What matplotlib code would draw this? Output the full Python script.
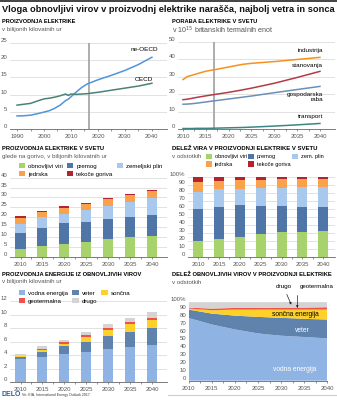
import matplotlib
matplotlib.use("Agg")
import matplotlib.pyplot as plt
from matplotlib import font_manager
from matplotlib.patches import Patch
import numpy as np

# ---------------------------- data -------------------------------------------
# production of electricity, OECD vs. non-OECD (trillion kWh)
gen_years = [1990, 1992, 1995, 1998, 2000, 2002, 2004, 2006, 2008, 2009, 2010,
             2012, 2014, 2016, 2017, 2020, 2025, 2030, 2035, 2040]
ne_oecd = [3.9, 3.9, 4.1, 4.6, 5.0, 5.4, 6.1, 7.0, 8.3, 8.7, 9.4,
           10.8, 12.1, 13.1, 13.4, 14.3, 15.6, 17.0, 18.7, 20.8]
oecd = [7.0, 7.2, 7.5, 8.3, 8.8, 9.0, 9.3, 9.7, 10.2, 9.8, 10.2,
        10.1, 10.2, 10.3, 10.4, 10.7, 11.3, 11.9, 12.5, 13.3]

# consumption of electricity by sector (quadrillion Btu)
use_years = [2010, 2011, 2012, 2013, 2015, 2017, 2020, 2023, 2025, 2030, 2035, 2040]
industrija = [28.5, 30.3, 31.0, 31.8, 33.3, 34.2, 35.7, 37.2, 37.8, 38.8, 40.0, 41.2]
stanovanja = [17.0, 17.3, 17.8, 18.3, 19.2, 20.0, 21.2, 22.6, 23.6, 26.4, 29.7, 33.2]
gospodarska = [14.4, 14.5, 14.7, 15.0, 15.7, 16.4, 17.4, 18.4, 19.1, 21.0, 22.8, 24.6]
transport = [0.5, 0.5, 0.5, 0.6, 0.6, 0.7, 0.9, 1.1, 1.3, 1.9, 2.6, 3.4]
today = 2016.7

# generation by fuel (trillion kWh)
bar_years = [2010, 2015, 2020, 2025, 2030, 2035, 2040]
obnovljivi = [3.9, 5.4, 6.4, 7.6, 8.8, 9.8, 10.6]
premog = [7.9, 9.3, 10.5, 10.1, 10.1, 10.1, 10.5]
plin = [4.6, 5.2, 4.7, 5.9, 6.7, 7.6, 8.7]
jedrska = [3.0, 2.5, 3.2, 3.0, 3.4, 3.7, 3.6]
tekoce = [1.0, 0.9, 0.7, 0.6, 0.5, 0.5, 0.6]

# share of fuels in generation (%)
obnovljivi_pct = [19.5, 22.0, 25.0, 28.0, 31.0, 31.0, 32.5]
premog_pct = [39.5, 40.0, 39.6, 35.8, 32.5, 31.0, 29.0]
plin_pct = [21.5, 22.0, 20.0, 21.7, 22.5, 24.5, 26.0]
jedrska_pct = [12.5, 11.0, 11.2, 10.3, 10.5, 10.0, 9.5]
tekoce_pct = [7.0, 5.0, 4.2, 4.2, 3.5, 3.5, 3.0]

# renewable generation by source (trillion kWh)
vodna = [3.4, 3.76, 4.15, 4.5, 4.96, 5.2, 5.5]
veter = [0.35, 0.74, 1.15, 1.5, 1.84, 2.2, 2.5]
soncna = [0.05, 0.3, 0.4, 0.75, 0.9, 1.2, 1.3]
geo = [0.1, 0.16, 0.2, 0.25, 0.3, 0.3, 0.3]
drugo = [0.2, 0.34, 0.4, 0.5, 0.7, 0.6, 0.8]

# share of renewable sources (%)
vodna_pct = [80.0, 71.7, 65.4, 60.3, 57.4, 55.7, 54.0]
veter_pct = [10.7, 13.9, 17.6, 21.1, 22.8, 23.2, 24.0]
soncna_pct = [1.3, 4.3, 7.7, 9.3, 10.5, 11.8, 12.7]
geo_pct = [1.2, 2.1, 2.1, 2.1, 2.5, 2.5, 3.0]
drugo_pct = [6.8, 8.0, 7.2, 7.2, 6.8, 6.8, 6.3]

# ---------------------------- style ------------------------------------------
names = {f.name for f in font_manager.fontManager.ttflist}
FONT = "Liberation Sans Narrow" if "Liberation Sans Narrow" in names else "Liberation Sans"
plt.rcParams["font.family"] = [FONT, "DejaVu Sans"]

C_GREEN = "#a8d26b"
C_COAL = "#4f76a6"
C_GAS = "#a9c8ee"
C_NUC = "#f9a24b"
C_OIL = "#b3242f"
C_HYDRO = "#8fb3e2"
C_WIND = "#5f83ad"
C_SUN = "#fdd02a"
C_GEO = "#f0524b"
C_OTHER = "#d4d4d4"
GRID = "#d6d6d6"
TXT = "#555555"

W, H = 337, 400
fig = plt.figure(figsize=(W / 100, H / 100), dpi=100)
renderer = fig.canvas.get_renderer()


def add_ax(l, t, r, b):
    return fig.add_axes([l / W, 1 - b / H, (r - l) / W, (b - t) / H])


def text(x, y, s, width=None, size=5, **kw):
    t = fig.text(x / W, 1 - y / H, s, fontsize=size, va="center", **kw)
    if width:
        w = t.get_window_extent(renderer).width
        t.set_fontsize(size * width / w)
    return t


def style(ax, xlim, ylim, yticks, ylabels, xticks, minor=None, pad=1.8):
    ax.set_xlim(*xlim)
    ax.set_ylim(*ylim)
    for s in ["top", "right", "left"]:
        ax.spines[s].set_visible(False)
    ax.spines["bottom"].set_color("#666666")
    ax.spines["bottom"].set_linewidth(0.6)
    ax.set_yticks(yticks, ylabels, va="bottom")
    ax.set_xticks(xticks)
    if minor is not None:
        ax.set_xticks(minor, minor=True)
    ax.tick_params(axis="y", length=0, pad=pad, labelsize=4.3, labelcolor=TXT)
    ax.tick_params(axis="x", which="both", length=1.5, width=0.5, color="#666666",
                   labelsize=4.3, labelcolor=TXT, pad=2)
    ax.grid(axis="y", color=GRID, lw=0.5)
    ax.set_axisbelow(True)


def legend(x, y, items, spacing=0.7, size=4.4):
    handles = [Patch(facecolor=c, edgecolor="none") for _, c in items]
    fig.legend(handles, [n for n, _ in items], loc="upper left",
               bbox_to_anchor=(x / W, 1 - y / H), ncol=3, frameon=False,
               fontsize=size, handlelength=1.0, handleheight=1.0,
               handletextpad=0.5, columnspacing=spacing, borderpad=0,
               borderaxespad=0, labelspacing=0.35)


# ---------------------------- header -----------------------------------------
fig.add_artist(plt.Line2D([0, 1], [1 - 0.8 / H] * 2, color="#222222", lw=1.2))
text(2, 9, "Vloga obnovljivi virov v proizvodnj elektrike narašča, najbolj vetra in sonca",
     width=331, size=8, weight="bold", color="#111111")

# ---------------------------- panel 1 ----------------------------------------
text(2, 21.5, "PROIZVODNJA ELEKTRIKE", width=76, size=5, weight="bold")
text(2, 30, "v bilijonih kilovatnih ur", width=61, size=5, color=TXT)
ax1 = add_ax(10, 42.7, 167, 129.4)
style(ax1, (1987.4, 2045.6), (0, 25), range(0, 26, 5), [str(v) for v in range(0, 26, 5)],
      range(1990, 2041, 10), minor=range(1995, 2040, 10))
ax1.axvline(today, color="#a0a0a0", lw=1.2)
ax1.plot(gen_years, ne_oecd, color="#4f95dc", lw=1.1)
ax1.plot(gen_years, oecd, color="#4b8275", lw=1.1)
ax1.text(2037, 22.9, "ne-OECD", fontsize=4.6, ha="center", va="center")
ax1.text(2037, 14.5, "OECD", fontsize=4.6, ha="center", va="center")

# ---------------------------- panel 2 ----------------------------------------
text(172, 21.5, "PORABA ELEKTRIKE V SVETU", width=86, size=5, weight="bold")
text(172, 30, "v 10$^{15}$ britanskih termalnih enot", width=102, size=5, color=TXT)
ax2 = add_ax(178, 42, 335, 129.4)
style(ax2, (2008.9, 2043.3), (0, 50), range(0, 51, 10), [str(v) for v in range(0, 51, 10)],
      range(2010, 2041, 5), minor=np.arange(2012.5, 2040, 5))
ax2.axvline(today, color="#a0a0a0", lw=1.2)
ax2.plot(use_years, industrija, color="#f7901e", lw=1.1)
ax2.plot(use_years, stanovanja, color="#b23b47", lw=1.1)
ax2.plot(use_years, gospodarska, color="#6a8fb8", lw=1.1)
ax2.plot(use_years, transport, color="#3d8583", lw=1.1)
for label, v in [("industrija", 45.4), ("stanovanja", 36.8), ("gospodarska\nraba", 18.4),
                 ("transport", 7.3)]:
    ax2.text(2040.7, v, label, fontsize=4.6, ha="right", va="center", linespacing=0.95)

# ---------------------------- panel 3 ----------------------------------------
text(2, 148.3, "PROIZVODNJA ELEKTRIKE V SVETU", width=104, size=5, weight="bold")
text(2, 156.7, "glede na gorivo, v bilijonih kilovatnih ur", width=108, size=5, color=TXT)
legend(19, 163, [("obnovljivi viri", C_GREEN), ("jedrska", C_NUC), ("premog", C_COAL),
                 ("tekoče goriva", C_OIL), ("zemeljski plin", C_GAS)])
ax3 = add_ax(10, 177.7, 167, 256.7)
style(ax3, (2007.6, 2043.4), (0, 40), range(0, 41, 5), [str(v) for v in range(0, 41, 5)],
      bar_years, minor=np.arange(2012.5, 2040, 5))
bottom = np.zeros(len(bar_years))
for vals, c in [(obnovljivi, C_GREEN), (premog, C_COAL), (plin, C_GAS),
                (jedrska, C_NUC), (tekoce, C_OIL)]:
    ax3.bar(bar_years, vals, width=2.3, bottom=bottom, color=c)
    bottom += np.array(vals)

# ---------------------------- panel 4 ----------------------------------------
text(172, 148.3, "DELEŽ VIRA V PROIZVODNJI ELEKTRIKE V SVETU", width=150, size=5, weight="bold")
text(172, 156.7, "v odstotkih", width=30, size=5, color=TXT)
legend(206, 154, [("obnovljivi viri", C_GREEN), ("jedrska", C_NUC), ("premog", C_COAL),
                  ("tekoče goriva", C_OIL), ("zem. plin", C_GAS)], spacing=0.3, size=4.1)
ax4 = add_ax(188, 176.7, 335, 256.7)
style(ax4, (2007.6, 2042.8), (0, 100), range(0, 101, 10),
      [str(v) for v in range(0, 100, 10)] + ["100%"],
      bar_years, minor=np.arange(2012.5, 2040, 5))
bottom = np.zeros(len(bar_years))
for vals, c in [(obnovljivi_pct, C_GREEN), (premog_pct, C_COAL), (plin_pct, C_GAS),
                (jedrska_pct, C_NUC), (tekoce_pct, C_OIL)]:
    ax4.bar(bar_years, vals, width=2.4, bottom=bottom, color=c)
    bottom += np.array(vals)

# ---------------------------- panel 5 ----------------------------------------
text(2, 274, "PROIZVODNJA ENERGIJE IZ OBNOVLJIVIH VIROV", width=142, size=5, weight="bold")
text(2, 282, "v bilijonih kilovatnih ur", width=61, size=5, color=TXT)
ax5 = add_ax(10, 301.4, 167, 382)
style(ax5, (2007.6, 2043.4), (0, 12), range(0, 13, 2), [str(v) for v in range(0, 13, 2)],
      bar_years, minor=np.arange(2012.5, 2040, 5))
legend(19, 290, [("vodna energija", C_HYDRO), ("geotermalna", C_GEO), ("veter", C_WIND),
                 ("drugo", C_OTHER), ("sončna", C_SUN)])
bottom = np.zeros(len(bar_years))
for vals, c in [(vodna, C_HYDRO), (veter, C_WIND), (soncna, C_SUN),
                (geo, C_GEO), (drugo, C_OTHER)]:
    ax5.bar(bar_years, vals, width=2.3, bottom=bottom, color=c)
    bottom += np.array(vals)

# ---------------------------- panel 6 ----------------------------------------
text(172, 274, "DELEŽ OBNOVLJIVIH VIROV V PROIZVODNJI ELEKTRIKE", width=163, size=5, weight="bold")
text(172, 282, "v odstotkih", width=30, size=5, color=TXT)
ax6 = add_ax(188.7, 302.3, 327.3, 380.7)
style(ax6, (2010, 2040), (0, 100), range(0, 101, 10),
      [str(v) for v in range(0, 100, 10)] + ["100%"],
      bar_years, minor=np.arange(2012.5, 2040, 5))
ax6.stackplot(bar_years, vodna_pct, veter_pct, soncna_pct, geo_pct, drugo_pct,
              colors=[C_HYDRO, C_WIND, C_SUN, C_GEO, C_OTHER], lw=0)
ax6.text(2033, 84.5, "sončna energija", fontsize=4.8, ha="center", va="center")
ax6.text(2034.5, 64, "veter", fontsize=4.8, ha="center", va="center", color="white")
ax6.text(2033, 14, "vodna energija", fontsize=4.8, ha="center", va="center", color="white")
ax6.annotate("drugo", xy=(2032.2, 97), xytext=(2030.5, 120), fontsize=4.6, ha="center",
             va="center", annotation_clip=False,
             arrowprops=dict(arrowstyle="-|>", lw=0.5, color="#222222", mutation_scale=3,
                             shrinkA=2, shrinkB=0))
ax6.annotate("geotermalna", xy=(2033.5, 92.8), xytext=(2037.7, 120), fontsize=4.4, ha="center",
             va="center", annotation_clip=False,
             arrowprops=dict(arrowstyle="-|>", lw=0.5, color="#222222", mutation_scale=3,
                             shrinkA=2, shrinkB=0,
                             connectionstyle="angle,angleA=0,angleB=90,rad=0"))

# ---------------------------- footer -----------------------------------------
fig.add_artist(plt.Line2D([168 / W, 1], [1 - 394.5 / H] * 2, color="#cccccc", lw=0.8))
text(2, 395, "DELO", size=5, weight="bold", color="#1f5fa8")
text(22, 395, "Vir: EIA, International Energy Outlook 2017", width=66, size=4, color="#333333")

fig.savefig("out.png", dpi=100)
